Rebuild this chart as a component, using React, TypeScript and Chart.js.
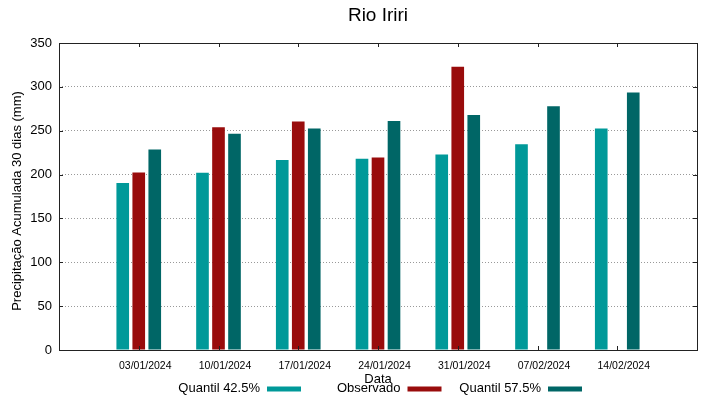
import React, { useEffect, useRef } from "react";
import { Chart, registerables } from "chart.js";

Chart.register(...registerables);

const chartTitle = "Rio Iriri";
const xTitle = "Data";
const yTitle = "Precipitação Acumulada 30 dias (mm)";
const categories = ["03/01/2024", "10/01/2024", "17/01/2024", "24/01/2024", "31/01/2024", "07/02/2024", "14/02/2024"];
const seriesNames = ["Quantil 42.5%", "Observado", "Quantil 57.5%"];
const q425 = [190.5, 202, 216.5, 218, 223, 234.5, 252.5];
const observado = [202.5, 254, 260.5, 219.5, 323, null, null];
const q575 = [228.5, 246.5, 252.5, 261, 268, 278, 293.5];
const yTicks = [0, 50, 100, 150, 200, 250, 300, 350];
const colors = ["#009999", "#990c0c", "#006666"];

const FONT = "'Liberation Sans', Arial, sans-serif";

const decorPlugin = {
  id: "decor",
  afterDatasetsDraw(chart: any) {
    const { ctx, chartArea: a, scales } = chart;
    ctx.save();
    ctx.strokeStyle = "#222";
    ctx.lineWidth = 1;
    ctx.beginPath();
    yTicks.forEach((v) => {
      const y = Math.round(scales.y.getPixelForValue(v)) + 0.5;
      ctx.moveTo(a.left, y);
      ctx.lineTo(a.left + 4, y);
      ctx.moveTo(a.right, y);
      ctx.lineTo(a.right - 4, y);
    });
    categories.forEach((_, i) => {
      const x = Math.round(scales.x.getPixelForValue(i)) + 0.5;
      ctx.moveTo(x, a.bottom);
      ctx.lineTo(x, a.bottom - 4);
      ctx.moveTo(x, a.top);
      ctx.lineTo(x, a.top + 4);
    });
    ctx.stroke();
    ctx.strokeRect(Math.round(a.left) + 0.5, Math.round(a.top) + 0.5, Math.round(a.right - a.left), Math.round(a.bottom - a.top));
    ctx.restore();
  },
  afterDraw(chart: any) {
    const { ctx, chartArea: a } = chart;
    const cx = (a.left + a.right) / 2;
    ctx.save();
    ctx.fillStyle = "#000";
    ctx.font = `19px ${FONT}`;
    ctx.textAlign = "center";
    ctx.textBaseline = "middle";
    ctx.fillText(chartTitle, cx, 16);
    ctx.font = `13px ${FONT}`;
    ctx.fillText(xTitle, cx, 379);
    ctx.save();
    ctx.translate(17, 201);
    ctx.rotate(-Math.PI / 2);
    ctx.fillText(yTitle, 0, 0);
    ctx.restore();
    chart.data.datasets.forEach((ds: any, i: number) => {
      const xEnd = 260 + 140.5 * i;
      ctx.font = `13px ${FONT}`;
      ctx.textAlign = "right";
      ctx.fillStyle = "#000";
      ctx.fillText(ds.label, xEnd, 388);
      ctx.fillStyle = ds.backgroundColor;
      ctx.fillRect(xEnd + 7, 386.5, 34, 5);
    });
    ctx.restore();
  },
};

export default function App() {
  const ref = useRef<HTMLCanvasElement>(null);
  useEffect(() => {
    document.body.style.margin = "0";
    const seriesData = [q425, observado, q575];
    const chart = new Chart(ref.current as HTMLCanvasElement, {
      type: "bar",
      data: {
        datasets: seriesData.map((vals, k) => ({
          label: seriesNames[k],
          data: vals.map((v, i) => ({ x: i, y: v })),
          backgroundColor: colors[k],
          borderWidth: 0,
          categoryPercentage: 0.602,
          barPercentage: 0.79,
        })),
      } as any,
      options: {
        animation: false,
        responsive: true,
        maintainAspectRatio: false,
        layout: { padding: { top: 43, right: 22, left: 0, bottom: 0 } },
        plugins: { legend: { display: false }, title: { display: false }, tooltip: { enabled: false } },
        scales: {
          x: {
            type: "linear",
            min: -1,
            max: 7,
            offset: false,
            grid: { display: false, drawTicks: false, offset: false },
            border: { display: false },
            afterFit: (s: any) => { s.height = 49; },
            afterBuildTicks: (s: any) => { s.ticks = categories.map((_, i) => ({ value: i })); },
            ticks: {
              autoSkip: false,
              maxRotation: 0,
              padding: 10,
              labelOffset: 6.5,
              color: "#000",
              font: { family: FONT, size: 10.5 },
              callback: (v: any) => categories[v] ?? "",
            },
          },
          y: {
            min: 0,
            max: 350,
            grid: { color: "#999999", lineWidth: 1, drawTicks: false },
            border: { display: false, dash: [1, 2] },
            afterFit: (s: any) => { s.width = 59; },
            ticks: {
              stepSize: 50,
              padding: 7,
              color: "#000",
              font: { family: FONT, size: 13 },
            },
          },
        },
      } as any,
      plugins: [decorPlugin],
    });
    return () => chart.destroy();
  }, []);
  return (
    <div style={{ position: "fixed", left: 0, top: 0, width: 719, height: 399, background: "#fff" }}>
      <canvas ref={ref} />
    </div>
  );
}
